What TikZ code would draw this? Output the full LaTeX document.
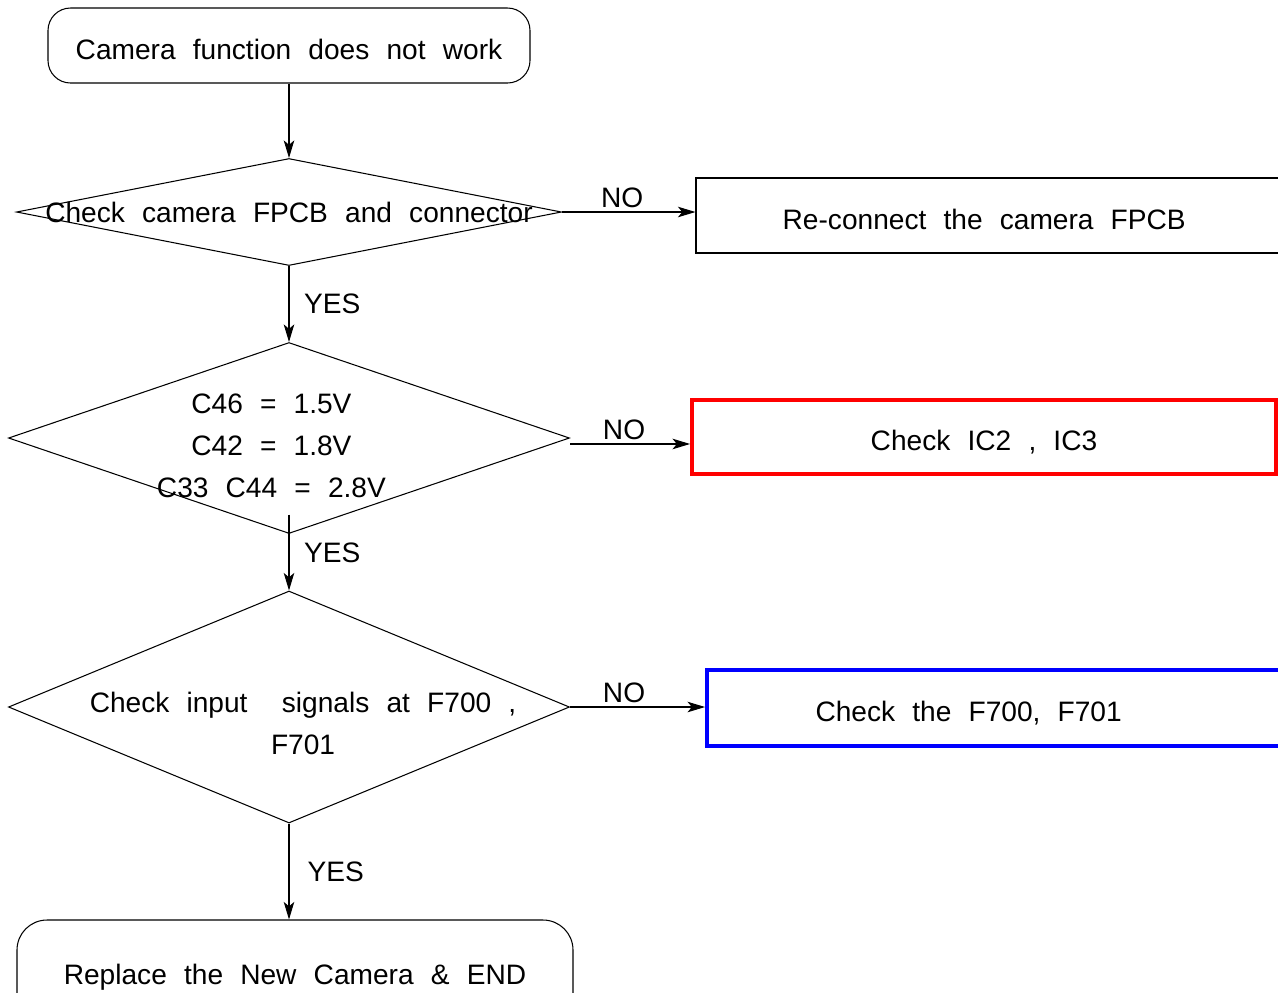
\documentclass[tikz,border=0pt]{standalone}
\usepackage{fontspec}
\setmainfont[WordSpace=2.2]{Liberation Sans}
\usepackage{tikz}
\usetikzlibrary{arrows.meta}
\usetikzlibrary{shapes.geometric}
\newcommand\pxu{0.02cm}

\begin{document}
\begin{tikzpicture}[
        x=0.02cm, y=-0.02cm,
        font=\fontsize{16}{24}\selectfont,
        end-node/.style={rectangle,draw,rounded corners=0.45cm,line width=0.6pt,text height=15.5pt,text depth=0pt},
        dec-node/.style={diamond,draw,line width=0.6pt,inner sep=0pt},
        act-node/.style={rectangle,draw,line width=0.6pt,text height=15.5pt,text depth=0pt},
        flow/.style={line width=0.6pt,-{Stealth[length=10pt,width=6pt,inset=2.5pt]}}
    ]
        \clip[use as bounding box] (0,0) rectangle (1278,992);

        \node[end-node, minimum width=482*\pxu, minimum height=75*\pxu] (start) at (289,45.5) {Camera function does not work};

        \node[dec-node, minimum width=545*\pxu, minimum height=107*\pxu] (fpcb) at (289,212) {\makebox[0pt]{Check camera FPCB and connector}};
        \node[act-node, minimum width=594*\pxu, minimum height=75*\pxu] (recon) at (993,215.5) {\kern-10pt Re-connect the camera FPCB};

        \node[dec-node, minimum width=561*\pxu, minimum height=191*\pxu] (volt) at (289,438) {\makebox[0pt]{\kern-20pt\raisebox{-9.5pt}[0pt][0pt]{\begin{tabular}{@{}c@{}}C46 = 1.5V\\ C42 = 1.8V\\ C33 C44 = 2.8V\end{tabular}}}};
        \node[act-node, draw=red, line width=2.2pt, minimum width=584*\pxu, minimum height=74*\pxu] (ic) at (984,437) {Check IC2 , IC3};

        \node[dec-node, minimum width=561*\pxu, minimum height=232*\pxu] (sig) at (289,707) {\makebox[0pt]{\kern16pt\raisebox{-14.5pt}[0pt][0pt]{\begin{tabular}{@{}c@{}}Check input\ \ signals at F700 ,\\ F701\end{tabular}}}};
        \node[act-node, draw=blue, line width=2.2pt, minimum width=583*\pxu, minimum height=76*\pxu] (fuse) at (998.5,708) {\kern-34pt Check the F700, F701};

        \node[end-node, rounded corners=0.6cm, text height=11.5pt, minimum width=556*\pxu, minimum height=108*\pxu] (done) at (295,974) {Replace the New Camera \& END};

        \draw[flow] (start) -- (fpcb);
        \draw[flow] (fpcb.east) -- (fpcb.east -| recon.west) node[pos=0.45, above=-1pt] {NO};
        \draw[flow] (fpcb) -- (volt) node[midway, right=5pt] {YES};
        \draw[flow] ([yshift=-3.4pt]volt.east) -- ([yshift=-3.4pt]volt.east -| ic.west) node[pos=0.45, above=-1pt] {NO};
        \draw[flow] ([yshift=11pt]volt.south) -- (sig) node[midway, right=5pt] {YES};
        \draw[flow] (sig.east) -- (sig.east -| fuse.west) node[pos=0.4, above=-1pt] {NO};
        \draw[flow] (sig.south) -- (sig.south |- done.north) node[midway, right=7pt] {YES};
    \end{tikzpicture}
\end{document}
